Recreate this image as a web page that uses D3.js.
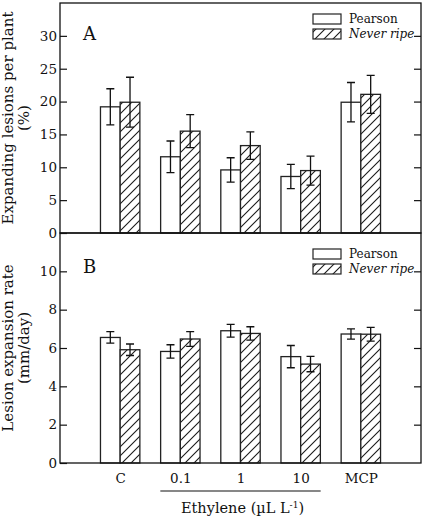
<!DOCTYPE html>
<html><head><meta charset="utf-8">
<script src="https://cdn.jsdelivr.net/npm/d3@7"></script>
<style>body{margin:0;background:#fff}svg{display:block}text{font-family:"DejaVu Serif",serif;fill:#111}</style>
</head><body><div id="chart"></div>
<script>
const categories = ["C", "0.1", "1", "10", "MCP"];
const series = ["Pearson", "Never ripe"];
// Panel A: expanding lesions per plant (%)
const lesionsPearson = [19.2, 11.6, 9.6, 8.6, 19.9];
const lesionsPearsonErr = [2.75, 2.4, 1.85, 1.85, 3.0];
const lesionsNeverRipe = [19.9, 15.5, 13.3, 9.5, 21.1];
const lesionsNeverRipeErr = [3.8, 2.5, 2.1, 2.2, 2.9];
// Panel B: lesion expansion rate (mm/day)
const ratePearson = [6.55, 5.82, 6.9, 5.55, 6.73];
const ratePearsonErr = [0.3, 0.35, 0.33, 0.58, 0.27];
const rateNeverRipe = [5.91, 6.47, 6.76, 5.16, 6.72];
const rateNeverRipeErr = [0.3, 0.38, 0.35, 0.4, 0.36];
const ticksA = [0, 5, 10, 15, 20, 25, 30];
const ticksB = [0, 2, 4, 6, 8, 10];

const W = 425, H = 518;
const L = 60, R = 421;
const svg = d3.select("#chart").append("svg").attr("width", W).attr("height", H);

const defs = svg.append("defs");
const pat = defs.append("pattern").attr("id", "hatch").attr("patternUnits", "userSpaceOnUse")
  .attr("width", 9).attr("height", 9);
pat.append("rect").attr("width", 9).attr("height", 9).attr("fill", "#fff");
pat.append("path").attr("d", "M-1,10 L10,-1 M-2,2 L2,-2 M7,11 L11,7")
  .attr("stroke", "#1a1a1a").attr("stroke-width", 1.1);

const x = d3.scalePoint().domain(categories).range([L, R]).padding(1);
const bw = 19.7;

function panel(y, top, bottom, ticks, pVals, pErr, nVals, nErr, label, labelY, legendY, titleLines) {
  const g = svg.append("g");
  const left = d3.axisLeft(y).tickValues(ticks).tickSize(-7).tickPadding(3);
  const ga = g.append("g").attr("transform", `translate(${L},0)`).call(left);
  ga.select(".domain").remove();
  ga.selectAll("line").attr("stroke", "#111").attr("stroke-width", 1.2);
  ga.selectAll("text").style("font-family", "DejaVu Serif").style("font-size", "13.5px").attr("fill", "#111");
  const right = d3.axisRight(y).tickValues(ticks.filter(t => t > 0)).tickSize(-7).tickFormat("");
  const gr = g.append("g").attr("transform", `translate(${R},0)`).call(right);
  gr.select(".domain").remove();
  gr.selectAll("line").attr("stroke", "#111").attr("stroke-width", 1.2);

  const data = categories.map((c, i) => ({c, p: pVals[i], pe: pErr[i], n: nVals[i], ne: nErr[i]}));
  data.forEach(d => {
    const cx = x(d.c);
    [[d.p, d.pe, cx - bw, "#fff"], [d.n, d.ne, cx, "url(#hatch)"]].forEach(([v, e, x0, fill]) => {
      g.append("rect").attr("x", x0).attr("y", y(v)).attr("width", bw).attr("height", y(0) - y(v))
        .attr("fill", fill).attr("stroke", "#222").attr("stroke-width", 1.3);
      const mx = x0 + bw / 2;
      g.append("path").attr("d", `M${mx - 4},${y(v + e)}H${mx + 4}M${mx},${y(v + e)}V${y(v - e)}M${mx - 4},${y(v - e)}H${mx + 4}`)
        .attr("stroke", "#111").attr("stroke-width", 1.3).attr("fill", "none");
    });
  });

  g.append("rect").attr("x", L).attr("y", top).attr("width", R - L).attr("height", bottom - top)
    .attr("fill", "none").attr("stroke", "#111").attr("stroke-width", 1.3);

  g.append("text").attr("x", 83).attr("y", labelY).style("font-size", "18px").text(label);

  const lg = g.append("g").attr("transform", `translate(313,${legendY})`);
  series.forEach((s, i) => {
    lg.append("rect").attr("x", 0).attr("y", i * 15).attr("width", 28).attr("height", 10)
      .attr("fill", i ? "url(#hatch)" : "#fff").attr("stroke", "#222").attr("stroke-width", 1.2);
    lg.append("text").attr("x", 36).attr("y", i * 15 + 9).style("font-size", "12px")
      .style("font-style", i ? "italic" : "normal").text(s);
  });

  const cy = (top + bottom) / 2;
  const t = g.append("text").attr("transform", `translate(0,${cy}) rotate(-90)`).attr("text-anchor", "middle")
    .style("font-size", "15px");
  titleLines.forEach((ln, i) => t.append("tspan").attr("x", 0).attr("y", 13 + i * 16).text(ln));
}

const yA = d3.scaleLinear().domain([0, 35]).range([233, 3]);
const yB = d3.scaleLinear().domain([0, 12]).range([463, 233]);

panel(yA, 3, 233, ticksA, lesionsPearson, lesionsPearsonErr, lesionsNeverRipe, lesionsNeverRipeErr,
  "A", 40, 14, ["Expanding lesions per plant", "(%)"]);
panel(yB, 233, 463, ticksB, ratePearson, ratePearsonErr, rateNeverRipe, rateNeverRipeErr,
  "B", 273, 249, ["Lesion expansion rate", "(mm/day)"]);

const xa = d3.axisBottom(x).tickSize(0).tickPadding(0);
const gx = svg.append("g").attr("transform", "translate(0,463)").call(xa);
gx.select(".domain").remove();
gx.selectAll("text").attr("dy", null).attr("y", 20).style("font-family", "DejaVu Serif").style("font-size", "13.5px").attr("fill", "#111");

svg.append("line").attr("x1", x("0.1") - 20).attr("x2", x("10") + 20).attr("y1", 491).attr("y2", 491)
  .attr("stroke", "#111").attr("stroke-width", 1.2);
const et = svg.append("text").attr("x", x("1") + 2).attr("y", 513).attr("text-anchor", "middle").style("font-size", "14.5px");
et.append("tspan").text("Ethylene (\u00b5L L");
et.append("tspan").attr("dy", -5).style("font-size", "9px").text("-1");
et.append("tspan").attr("dy", 5).text(")");
</script></body></html>
